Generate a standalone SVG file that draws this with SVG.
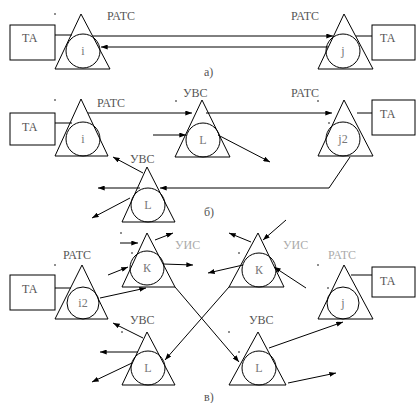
<svg xmlns="http://www.w3.org/2000/svg" width="416" height="403" viewBox="0 0 416 403">
<style>
.tri,.cir,.box{fill:none;stroke:#000;stroke-width:1}
.t{font-family:"Liberation Serif","DejaVu Serif",serif;font-size:12px;fill:#555}
.tl{font-family:"Liberation Serif","DejaVu Serif",serif;font-size:12px;fill:#aaa}
.in{font-family:"Liberation Serif","DejaVu Serif",serif;font-size:12px;fill:#777;text-anchor:middle}
.ln{fill:none;stroke:#000;stroke-width:1}
.lnb{fill:none;stroke:#000;stroke-width:1.4}
.ar{fill:none;stroke:#000;stroke-width:1;marker-end:url(#ah)}
.dot{fill:#000}
</style>
<defs>
<marker id="ah" viewBox="0 0 8 6" refX="8" refY="3" markerWidth="7" markerHeight="5" markerUnits="userSpaceOnUse" orient="auto">
<path d="M0,0 L8,3 L0,6 Z" fill="#000"/>
</marker>
</defs>
<rect width="416" height="403" fill="#fff"/>

<!-- Section a -->
<g id="ta-a1"><rect class="box" x="10" y="25" width="45" height="35"/><text class="t" x="22" y="42">ТА</text></g>
<g id="ratc-i-a"><polygon class="tri" points="81,14 55,69 110,69"/><circle class="cir" cx="83" cy="51" r="17"/><text class="in" x="83" y="55">i</text><text class="t" x="107" y="20">РАТС</text><circle class="dot" cx="55" cy="14" r="0.8"/></g>
<g id="ratc-j-a"><polygon class="tri" points="344,14 318,69 373,69"/><circle class="cir" cx="343" cy="51" r="17"/><text class="in" x="343" y="55">j</text><text class="t" x="291" y="20">РАТС</text></g>
<g id="ta-a2"><rect class="box" x="372" y="25" width="43" height="35"/><text class="t" x="380" y="42">ТА</text></g>
<text class="t" x="204" y="76">а)</text>

<!-- Section b -->
<g id="ta-b1"><rect class="box" x="10" y="113" width="45" height="32"/><text class="t" x="22" y="131">ТА</text></g>
<g id="ratc-i-b"><polygon class="tri" points="81,99 55,156 108,156"/><circle class="cir" cx="83" cy="139" r="17"/><text class="in" x="83" y="143">i</text><text class="t" x="97" y="107">РАТС</text><circle class="dot" cx="55" cy="100" r="0.8"/></g>
<g id="uvs-l-b1"><polygon class="tri" points="202,100 175,157 230,157"/><circle class="cir" cx="203" cy="140" r="17"/><text class="in" x="203" y="144">L</text><text class="t" x="183" y="97">УВС</text><circle class="dot" cx="176" cy="101" r="0.8"/></g>
<g id="ratc-j2-b"><polygon class="tri" points="344,100 318,156 373,156"/><circle class="cir" cx="343" cy="139" r="17"/><text class="in" x="343" y="143">j2</text><text class="t" x="291" y="97">РАТС</text><circle class="dot" cx="318" cy="101" r="0.8"/><circle class="dot" cx="329" cy="123" r="0.8"/></g>
<g id="ta-b2"><rect class="box" x="372" y="100" width="43" height="35"/><text class="t" x="380" y="118">ТА</text></g>
<g id="uvs-l-b2"><polygon class="tri" points="147,167 122,222 175,222"/><circle class="cir" cx="148" cy="205" r="17"/><text class="in" x="148" y="209">L</text><text class="t" x="130" y="163">УВС</text></g>
<text class="t" x="204" y="216">б)</text>

<!-- Section c -->
<g id="ta-c1"><rect class="box" x="10" y="275" width="45" height="35"/><text class="t" x="22" y="293">ТА</text></g>
<g id="ratc-i2-c"><polygon class="tri" points="82,265 55,319 108,319"/><circle class="cir" cx="83" cy="303" r="16"/><text class="in" x="83" y="307">i2</text><text class="t" x="63" y="259">РАТС</text><circle class="dot" cx="55" cy="265" r="0.8"/></g>
<g id="uis-k-c1"><polygon class="tri" points="147,233 122,287 175,287"/><circle class="cir" cx="147" cy="268" r="17"/><text class="in" x="147" y="272">К</text><text class="tl" x="175" y="249">УИС</text><circle class="dot" cx="121" cy="233" r="0.8"/><circle class="dot" cx="132" cy="253" r="0.8"/></g>
<g id="uvs-l-c1"><polygon class="tri" points="147,332 122,385 175,385"/><circle class="cir" cx="148" cy="368" r="17"/><text class="in" x="148" y="372">L</text><text class="t" x="130" y="324">УВС</text><circle class="dot" cx="122" cy="332" r="0.8"/></g>
<g id="uis-k-c2"><polygon class="tri" points="258,233 229,287 284,287"/><circle class="cir" cx="259" cy="270" r="17"/><text class="in" x="259" y="274">К</text><text class="tl" x="283" y="249">УИС</text><circle class="dot" cx="239" cy="253" r="0.8"/></g>
<g id="uvs-l-c2"><polygon class="tri" points="258,332 229,385 286,385"/><circle class="cir" cx="259" cy="368" r="17"/><text class="in" x="259" y="372">L</text><text class="t" x="249" y="324">УВС</text><circle class="dot" cx="229" cy="332" r="0.8"/><circle class="dot" cx="239" cy="352" r="0.8"/></g>
<g id="ratc-j-c"><polygon class="tri" points="344,265 318,319 373,319"/><circle class="cir" cx="343" cy="303" r="16"/><text class="in" x="343" y="307">j</text><text class="tl" x="328" y="259">РАТС</text><circle class="dot" cx="318" cy="265" r="0.8"/><circle class="dot" cx="328" cy="288" r="0.8"/></g>
<g id="ta-c2"><rect class="box" x="372" y="267" width="43" height="30"/><text class="t" x="380" y="285">ТА</text></g>
<text class="t" x="204" y="401">в)</text>

<g id="connectors">
<!-- a -->
<line class="ln" x1="55" y1="35" x2="72" y2="35"/>
<line class="ln" x1="356" y1="36" x2="372" y2="36"/>
<line class="lnb ar" x1="93" y1="36" x2="333" y2="36"/>
<line class="lnb ar" x1="328" y1="47" x2="101" y2="47"/>
<!-- b -->
<line class="ln" x1="55" y1="123" x2="72" y2="123"/>
<line class="ar" x1="88" y1="113" x2="192" y2="113"/>
<line class="ar" x1="206" y1="113" x2="332" y2="113"/>
<line class="ln" x1="357" y1="113" x2="372" y2="113"/>
<line class="ar" x1="153" y1="135" x2="186" y2="135"/>
<line class="ar" x1="218" y1="135" x2="270" y2="162"/>
<polyline class="ar" points="350,157 329,188 160,188"/>
<line class="ar" x1="143" y1="173" x2="113" y2="157"/>
<line class="ar" x1="140" y1="188" x2="98" y2="188"/>
<line class="ar" x1="130" y1="198" x2="92" y2="218"/>
<!-- c -->
<line class="ln" x1="55" y1="288" x2="71" y2="288"/>
<line class="ln" x1="351" y1="275" x2="372" y2="275"/>
<line class="ar" x1="100" y1="298" x2="146" y2="288"/>
<line class="ar" x1="120" y1="243" x2="138" y2="243"/>
<line class="ar" x1="155" y1="240" x2="173" y2="233"/>
<line class="ar" x1="108" y1="275" x2="128" y2="267"/>
<line class="ar" x1="163" y1="264" x2="193" y2="265"/>
<line class="ar" x1="286" y1="220" x2="263" y2="240"/>
<line class="ar" x1="251" y1="242" x2="229" y2="233"/>
<line class="ar" x1="243" y1="265" x2="208" y2="273"/>
<line class="ar" x1="306" y1="288" x2="274" y2="267"/>
<line class="ar" x1="175" y1="287" x2="239" y2="362"/>
<line class="ar" x1="229" y1="287" x2="165" y2="360"/>
<line class="ar" x1="143" y1="338" x2="113" y2="323"/>
<line class="ar" x1="138" y1="352" x2="100" y2="352"/>
<line class="ar" x1="132" y1="363" x2="92" y2="382"/>
<line class="ar" x1="269" y1="348" x2="343" y2="322"/>
<line class="ar" x1="288" y1="383" x2="336" y2="373"/>
</g>
</svg>
